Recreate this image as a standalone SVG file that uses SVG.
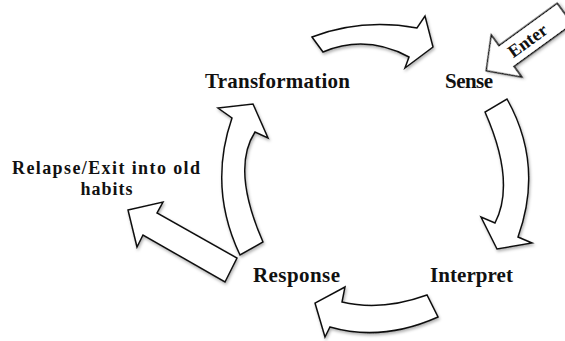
<svg xmlns="http://www.w3.org/2000/svg" width="565" height="341" viewBox="0 0 565 341">
<defs>
<style>
.lbl{font-family:"Liberation Serif","Times New Roman",serif;font-weight:bold;font-size:21px;fill:#111;}
.arr{fill:#fff;stroke:#111;stroke-width:1.5;stroke-linejoin:miter;filter:url(#sh);}
</style>
<filter id="sh" x="-20%" y="-20%" width="140%" height="140%">
<feDropShadow dx="1" dy="2" stdDeviation="1.5" flood-color="#000" flood-opacity="0.3"/>
</filter>
</defs>
<rect width="565" height="341" fill="#fff"/>
<g id="connectors">
<path id="arrow-top" class="arr" d="M312,37 Q362,18 417,28 L425,16 L433,47 L405,68 L409,57 Q366,34 323,52 Z"/>
<path id="arrow-right" class="arr" d="M507,99 Q544,165 518,237 L532,243 L497,249 L481,217 L495,223 Q516,182 485,112 Z"/>
<path id="arrow-bottom" class="arr" d="M427,295 Q381.5,311.5 342,302 L345,287 L315,303 L325,337 L330,327 Q382,342 438,317 Z"/>
<path id="arrow-left" class="arr" d="M240,255 Q208,187.5 232,118 L218,108 L253,104 L268,138 L255,132 Q231,169 263,242 Z"/>
<path id="arrow-relapse" class="arr" d="M128,210 L163,202 L157,213 L237,258 L225,282 L143,235 L137,247 Z"/>
<g id="arrow-enter" transform="translate(506.5,56) rotate(-36)">
<path class="arr" d="M-25,0 L0,-26 L0,-12.7 L72,-12.7 L72,12.7 L0,12.7 L0,26 Z"/>
<text x="26" y="6" text-anchor="middle" class="lbl" style="font-size:18px">Enter</text>
</g>
</g>
<g id="node-transformation"><text x="277.5" y="88" text-anchor="middle" class="lbl" textLength="145">Transformation</text></g>
<g id="node-sense"><text x="469" y="88" text-anchor="middle" class="lbl" textLength="48">Sense</text></g>
<g id="node-interpret"><text x="471.5" y="282" text-anchor="middle" class="lbl" textLength="83">Interpret</text></g>
<g id="node-response"><text x="296.5" y="282" text-anchor="middle" class="lbl" textLength="87">Response</text></g>
<g id="node-relapse">
<text x="106" y="174" text-anchor="middle" class="lbl" style="font-size:18px" textLength="188">Relapse/Exit into old</text>
<text x="106.5" y="195" text-anchor="middle" class="lbl" style="font-size:18px" textLength="52">habits</text>
</g>
</svg>
